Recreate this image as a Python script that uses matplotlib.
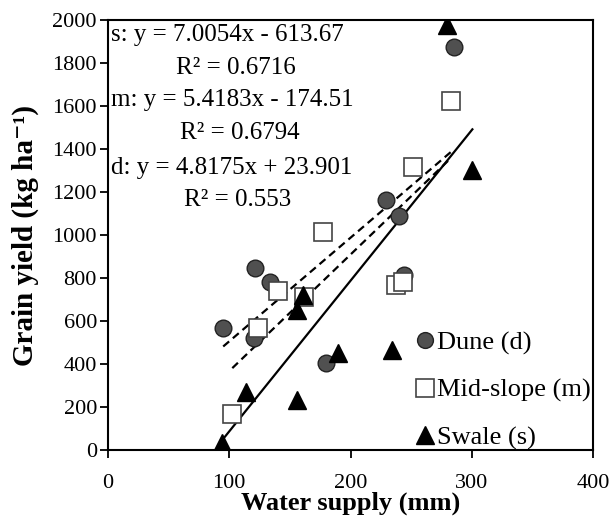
import numpy as np
import matplotlib
matplotlib.use("Agg")
import matplotlib.pyplot as plt

plt.rcParams['font.family'] = ['Liberation Serif', 'DejaVu Serif']

# Dune (d)
dune_x = [95, 120, 121, 134, 180, 229, 240, 244, 285]
dune_y = [566, 520, 845, 783, 403, 1163, 1088, 814, 1876]
# Mid-slope (m)
mid_x = [102.5, 123.4, 140.5, 161.6, 177.1, 237.5, 243, 251.8, 282.9]
mid_y = [166, 566, 741, 713, 1012, 767, 780, 1315, 1625]
# Swale (s)
swale_x = [93.8, 113.5, 155.6, 155.6, 160.5, 190, 234, 279.3, 300.5]
swale_y = [31, 271, 233, 651, 721, 450, 465, 1977, 1302]

# coeficientes de las rectas (pendiente, intercepto)
coef_s = (7.0054, -613.67)
coef_m = (5.4183, -174.51)
coef_d = (4.8175, 23.901)

fig = plt.figure(figsize=(6.12, 5.19), dpi=100)
ax = fig.add_axes([0.1765, 0.1329, 0.969 - 0.1765, 0.9615 - 0.1329])

# Rectas de tendencia
for xs, (a, b), estilo in [(swale_x, coef_s, '-'), (mid_x, coef_m, '--'), (dune_x, coef_d, '--')]:
    xx = np.array([min(xs), max(xs)])
    ax.plot(xx, a * xx + b, color='black', linestyle=estilo, linewidth=1.6,
            dashes=(3.5, 2.2) if estilo == '--' else (None, None), zorder=2)

ax.plot(dune_x, dune_y, 'o', color='#505050', markeredgecolor='#222222',
        markersize=12, markeredgewidth=1, label='Dune (d)', zorder=3)
ax.plot(mid_x, mid_y, 's', markerfacecolor='white', markeredgecolor='#444444',
        markersize=13, markeredgewidth=1.2, label='Mid-slope (m)', zorder=3)
ax.plot(swale_x, swale_y, '^', color='black', markersize=13,
        label='Swale (s)', zorder=4)

ax.set_xlim(0, 400)
ax.set_ylim(0, 2000)
ax.set_xticks(range(0, 401, 100))
ax.set_yticks(range(0, 2001, 200))
ax.tick_params(direction='out', length=6, width=1.3, labelsize=16, colors='black')
ax.tick_params(axis='y', pad=2)
ax.tick_params(axis='x', pad=11)
for s in ax.spines.values():
    s.set_linewidth(1.5)

ax.set_xlabel('Water supply (mm)', fontsize=19, fontweight='bold', labelpad=-1)
ax.set_ylabel('Grain yield (kg ha⁻¹)', fontsize=21, fontweight='bold', labelpad=10)

# Ecuaciones
fs = 18
ax.text(0.007, 0.965, 's: y = 7.0054x - 613.67', transform=ax.transAxes, fontsize=fs, va='center')
ax.text(0.264, 0.888, 'R² = 0.6716', transform=ax.transAxes, fontsize=fs, va='center', ha='center')
ax.text(0.007, 0.814, 'm: y = 5.4183x - 174.51', transform=ax.transAxes, fontsize=fs, va='center')
ax.text(0.272, 0.737, 'R² = 0.6794', transform=ax.transAxes, fontsize=fs, va='center', ha='center')
ax.text(0.007, 0.656, 'd: y = 4.8175x + 23.901', transform=ax.transAxes, fontsize=fs, va='center')
ax.text(0.268, 0.581, 'R² = 0.553', transform=ax.transAxes, fontsize=fs, va='center', ha='center')

ax.legend(loc='lower left', bbox_to_anchor=(0.63, 0.0), frameon=False, fontsize=19,
          handletextpad=0.0, labelspacing=0.9, handlelength=0.9, borderaxespad=0,
          borderpad=0, markerscale=0.95)

fig.savefig('out.png', dpi=100)
